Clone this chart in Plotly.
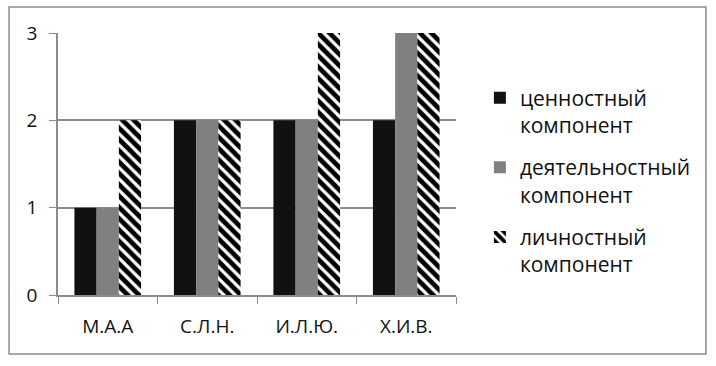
import plotly.graph_objects as go

categories = ["М.А.А", "С.Л.Н.", "И.Л.Ю.", "Х.И.В."]
series_names = ["ценностный<br>компонент", "деятельностный<br>компонент", "личностный<br>компонент"]
values_value = [1, 2, 2, 2]
values_activity = [1, 2, 2, 3]
values_personal = [2, 2, 3, 3]
y_ticks = [0, 1, 2, 3]

FONT = "Open Sans"

fig = go.Figure()
fig.add_trace(go.Bar(x=categories, y=values_value, name=series_names[0], legendgroup="a",
                     marker=dict(color="#111111", line=dict(width=0))))
fig.add_trace(go.Bar(x=categories, y=values_activity, name=series_names[1], legendgroup="b",
                     marker=dict(color="#808080", line=dict(width=0))))
fig.add_trace(go.Bar(x=categories, y=values_personal, name=series_names[2], legendgroup="c",
                     marker=dict(color="white", line=dict(width=0),
                                 pattern=dict(shape="\\", fgcolor="#000000", bgcolor="white",
                                              fgopacity=1, size=8, solidity=0.6))))

fig.update_layout(
    width=716, height=366,
    margin=dict(l=58, r=260, t=33, b=71),
    paper_bgcolor="white", plot_bgcolor="white",
    barmode="group", bargap=0.33, bargroupgap=0,
    font=dict(family=FONT, size=19, color="#111111"),
    legend=dict(x=1.06, y=0.83, xanchor="left", yanchor="top", valign="top",
                font=dict(family=FONT, size=21, color="#111111"),
                traceorder="grouped", tracegroupgap=12, itemwidth=30),
    showlegend=True,
    xaxis=dict(showline=True, linecolor="#8c8c8c", linewidth=1.5,
               ticks="outside", tickson="boundaries", ticklen=7, tickcolor="#8c8c8c",
               showgrid=False, tickfont=dict(size=19), ticklabelstandoff=13),
    yaxis=dict(range=[0, 3], tickvals=y_ticks, showline=True, linecolor="#8c8c8c", linewidth=1.5,
               ticks="outside", ticklen=7, tickcolor="#8c8c8c",
               showgrid=True, gridcolor="#8c8c8c", gridwidth=1.5, zeroline=False,
               tickfont=dict(size=19), ticklabelstandoff=8),
    shapes=[dict(type="rect", xref="paper", yref="paper",
                 x0=-0.123, x1=1.628, y0=-0.225, y1=1.099,
                 line=dict(color="#8c8c8c", width=1.5), layer="below")],
)

fig.write_html("out.html", config={"displayModeBar": False},
               post_script="document.body.style.margin='0';document.body.style.padding='0';")
